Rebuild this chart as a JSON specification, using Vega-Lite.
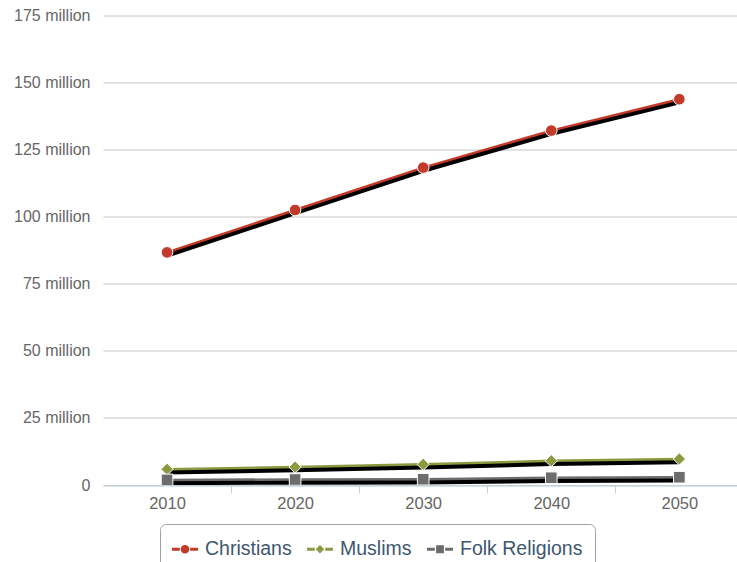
{
  "$schema": "https://vega.github.io/schema/vega-lite/v6.json",
  "width": 634,
  "height": 469.5,
  "autosize": "none",
  "padding": {"left": 103, "top": 15.5, "right": 0, "bottom": 77},
  "background": "white",
  "data": {
    "values": [
      {"year": 2010, "religion": "Christians", "population": 86700000},
      {"year": 2020, "religion": "Christians", "population": 102500000},
      {"year": 2030, "religion": "Christians", "population": 118300000},
      {"year": 2040, "religion": "Christians", "population": 132100000},
      {"year": 2050, "religion": "Christians", "population": 143800000},
      {"year": 2010, "religion": "Muslims", "population": 5850000},
      {"year": 2020, "religion": "Muslims", "population": 6700000},
      {"year": 2030, "religion": "Muslims", "population": 7700000},
      {"year": 2040, "religion": "Muslims", "population": 9050000},
      {"year": 2050, "religion": "Muslims", "population": 9700000},
      {"year": 2010, "religion": "Folk Religions", "population": 1900000},
      {"year": 2020, "religion": "Folk Religions", "population": 2050000},
      {"year": 2030, "religion": "Folk Religions", "population": 2150000},
      {"year": 2040, "religion": "Folk Religions", "population": 2700000},
      {"year": 2050, "religion": "Folk Religions", "population": 2900000}
    ]
  },
  "encoding": {
    "x": {
      "field": "year",
      "type": "quantitative",
      "scale": {"domain": [2005, 2054.5], "nice": false, "zero": false},
      "axis": {
        "title": null,
        "values": [2010, 2015, 2020, 2025, 2030, 2035, 2040, 2045, 2050],
        "labelExpr": "datum.value % 10 == 0 ? datum.value + '' : ''",
        "labelOverlap": false,
        "labelFlush": false,
        "grid": false,
        "domainColor": "#c0d0e0",
        "tickColor": {"condition": {"test": "datum.value % 10 == 0", "value": "transparent"}, "value": "#c0d0e0"},
        "tickSize": 8,
        "labelPadding": 2,
        "labelFont": "Liberation Sans",
        "labelFontSize": 16.5,
        "labelColor": "#666666",
        "zindex": 1
      }
    }
  },
  "layer": [
    {
      "mark": {"type": "line", "stroke": "black", "strokeWidth": 5.5, "strokeCap": "butt", "strokeJoin": "round"},
      "encoding": {
        "y": {
          "field": "population",
          "type": "quantitative",
          "scale": {"domain": [930000, 175930000], "nice": false, "zero": false},
          "axis": null
        },
        "detail": {"field": "religion"}
      }
    },
    {
      "encoding": {
        "y": {
          "field": "population",
          "type": "quantitative",
          "scale": {"domain": [0, 175000000], "nice": false},
          "axis": {
            "title": null,
            "values": [0, 25000000, 50000000, 75000000, 100000000, 125000000, 150000000, 175000000],
            "labelExpr": "datum.value == 0 ? '0' : (datum.value / 1000000) + ' million'",
            "ticks": false,
            "domain": false,
            "grid": true,
            "gridColor": "#c4c4c4",
            "labelPadding": 13,
            "labelFont": "Liberation Sans",
            "labelFontSize": 16,
            "labelColor": "#666666"
          }
        }
      },
      "layer": [
        {
          "mark": {"type": "line", "strokeWidth": 2.5, "strokeJoin": "round"},
          "encoding": {
            "color": {
              "field": "religion",
              "type": "nominal",
              "scale": {
                "domain": ["Christians", "Muslims", "Folk Religions"],
                "range": ["#c23b2a", "#8b9a3e", "#6c6c6c"]
              },
              "legend": {
                "title": null,
                "orient": "none",
                "legendX": 57,
                "legendY": 508.5,
                "direction": "horizontal",
                "strokeColor": "#a0a0a0",
                "fillColor": "white",
                "cornerRadius": 6,
                "padding": 12,
                "labelFont": "Liberation Sans",
                "labelFontSize": 19.5,
                "labelColor": "#3e576f",
                "labelOffset": 7,
                "labelLimit": 400,
                "columnPadding": 15,
                "symbolSize": 676,
                "symbolStrokeWidth": 0,
                "encode": {
                  "symbols": {
                    "update": {
                      "shape": {"signal": "datum.value === 'Christians' ? 'M-1,-0.11L-0.4,-0.11L-0.4,0.11L-1,0.11Z M0.4,-0.11L1,-0.11L1,0.11L0.4,0.11Z M-0.33,0A0.33,0.33 0 1,0 0.33,0A0.33,0.33 0 1,0 -0.33,0Z' : datum.value === 'Muslims' ? 'M-1,-0.11L-0.4,-0.11L-0.4,0.11L-1,0.11Z M0.4,-0.11L1,-0.11L1,0.11L0.4,0.11Z M0,-0.33L0.33,0L0,0.33L-0.33,0Z' : 'M-1,-0.11L-0.4,-0.11L-0.4,0.11L-1,0.11Z M0.4,-0.11L1,-0.11L1,0.11L0.4,0.11Z M-0.3,-0.3L0.3,-0.3L0.3,0.3L-0.3,0.3Z'"},
                      "size": {"value": 676},
                      "fill": {"scale": "color", "field": "value"},
                      "stroke": {"value": "transparent"},
                      "strokeWidth": {"value": 0},
                      "opacity": {"value": 1}
                    }
                  }
                }
              }
            }
          }
        },
        {
          "transform": [{"filter": "datum.religion === 'Christians'"}],
          "mark": {"type": "point", "shape": "circle", "filled": true, "fill": "#c23b2a", "opacity": 1, "stroke": "white", "strokeWidth": 1, "size": 135}
        },
        {
          "transform": [{"filter": "datum.religion === 'Muslims'"}],
          "mark": {"type": "point", "shape": "diamond", "filled": true, "fill": "#8b9a3e", "opacity": 1, "stroke": "white", "strokeWidth": 1, "size": 150}
        },
        {
          "transform": [{"filter": "datum.religion === 'Folk Religions'"}],
          "mark": {"type": "point", "shape": "square", "filled": true, "fill": "#6c6c6c", "opacity": 1, "stroke": "white", "strokeWidth": 1, "size": 135}
        }
      ]
    }
  ],
  "resolve": {"scale": {"y": "independent"}},
  "config": {"view": {"stroke": null}}
}
